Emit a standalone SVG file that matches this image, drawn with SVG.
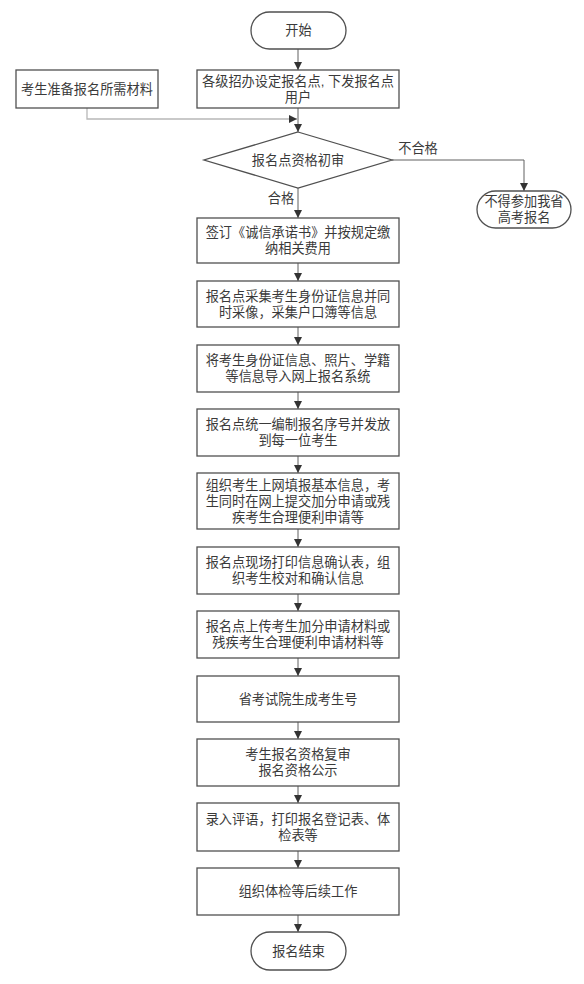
<svg xmlns="http://www.w3.org/2000/svg" width="584" height="984" viewBox="0 0 584 984">
<style>
.n{fill:#fff;stroke:#505050;stroke-width:1.3}
.t{font-family:"Liberation Sans","Noto Sans CJK SC",sans-serif;font-size:13.2px;fill:#3a3a3a;text-anchor:middle;dominant-baseline:central}
.c{fill:none;stroke:#606060;stroke-width:1}
.g{fill:none;stroke:#b8b8b8;stroke-width:1.3}
</style>
<defs>
<marker id="ah" viewBox="0 0 10 10" refX="10" refY="5" markerWidth="8" markerHeight="8" markerUnits="userSpaceOnUse" orient="auto">
<path d="M0,0 L10,5 L0,10 Z" fill="#333"/>
</marker>
</defs>
<rect width="584" height="984" fill="#fff"/>
<g id="connectors">
<line class="c" x1="298" y1="49" x2="298" y2="70" marker-end="url(#ah)"/>
<polyline class="g" points="87,108 87,119 297,119"/>
<line x1="289" y1="119" x2="297" y2="119" stroke="none" marker-end="url(#ah)"/>
<line class="c" x1="298" y1="108" x2="298" y2="132" marker-end="url(#ah)"/>
<polyline class="c" points="392,160 524,160 524,191" marker-end="url(#ah)"/>
<line class="c" x1="298" y1="188" x2="298" y2="218" marker-end="url(#ah)"/>
<line class="c" x1="298" y1="263" x2="298" y2="281" marker-end="url(#ah)"/>
<line class="c" x1="298" y1="327" x2="298" y2="345" marker-end="url(#ah)"/>
<line class="c" x1="298" y1="392" x2="298" y2="409" marker-end="url(#ah)"/>
<line class="c" x1="298" y1="456" x2="298" y2="473" marker-end="url(#ah)"/>
<line class="c" x1="298" y1="529" x2="298" y2="547" marker-end="url(#ah)"/>
<line class="c" x1="298" y1="594" x2="298" y2="611" marker-end="url(#ah)"/>
<line class="c" x1="298" y1="658" x2="298" y2="676" marker-end="url(#ah)"/>
<line class="c" x1="298" y1="722" x2="298" y2="739" marker-end="url(#ah)"/>
<line class="c" x1="298" y1="786" x2="298" y2="803" marker-end="url(#ah)"/>
<line class="c" x1="298" y1="851" x2="298" y2="868" marker-end="url(#ah)"/>
<line class="c" x1="298" y1="915" x2="298" y2="932" marker-end="url(#ah)"/>
<text class="t" x="418" y="148">不合格</text>
<text class="t" x="281" y="198">合格</text>
</g>
<g id="start"><rect class="n" x="251" y="12" width="95" height="37" rx="18.5"/><text class="t" x="298.5" y="30.5">开始</text></g>
<g id="prep"><rect class="n" x="16" y="70" width="142" height="38"/><text class="t" x="87" y="89">考生准备报名所需材料</text></g>
<g id="setup"><rect class="n" x="197" y="70" width="202" height="38"/><text class="t" x="298" y="81">各级招办设定报名点, 下发报名点</text><text class="t" x="298" y="97">用户</text></g>
<g id="check"><polygon class="n" points="298,132 392,160 298,188 204,160"/><text class="t" x="298" y="160">报名点资格初审</text></g>
<g id="reject"><rect class="n" x="477" y="191" width="94" height="37" rx="18.5"/><text class="t" x="524" y="201.5">不得参加我省</text><text class="t" x="524" y="217.5">高考报名</text></g>
<g id="b1"><rect class="n" x="197" y="218" width="202" height="45"/><text class="t" x="298" y="232.5">签订《诚信承诺书》并按规定缴</text><text class="t" x="298" y="248.5">纳相关费用</text></g>
<g id="b2"><rect class="n" x="197" y="281" width="202" height="46"/><text class="t" x="298" y="296">报名点采集考生身份证信息并同</text><text class="t" x="298" y="312">时采像，采集户口簿等信息</text></g>
<g id="b3"><rect class="n" x="197" y="345" width="202" height="47"/><text class="t" x="298" y="360.5">将考生身份证信息、照片、学籍</text><text class="t" x="298" y="376.5">等信息导入网上报名系统</text></g>
<g id="b4"><rect class="n" x="197" y="409" width="202" height="47"/><text class="t" x="298" y="424.5">报名点统一编制报名序号并发放</text><text class="t" x="298" y="440.5">到每一位考生</text></g>
<g id="b5"><rect class="n" x="197" y="473" width="202" height="56"/><text class="t" x="298" y="485">组织考生上网填报基本信息，考</text><text class="t" x="298" y="501">生同时在网上提交加分申请或残</text><text class="t" x="298" y="517">疾考生合理便利申请等</text></g>
<g id="b6"><rect class="n" x="197" y="547" width="202" height="47"/><text class="t" x="298" y="562.5">报名点现场打印信息确认表，组</text><text class="t" x="298" y="578.5">织考生校对和确认信息</text></g>
<g id="b7"><rect class="n" x="197" y="611" width="202" height="47"/><text class="t" x="298" y="626.5">报名点上传考生加分申请材料或</text><text class="t" x="298" y="642.5">残疾考生合理便利申请材料等</text></g>
<g id="b8"><rect class="n" x="197" y="676" width="202" height="46"/><text class="t" x="298" y="699">省考试院生成考生号</text></g>
<g id="b9"><rect class="n" x="197" y="739" width="202" height="47"/><text class="t" x="298" y="754.5">考生报名资格复审</text><text class="t" x="298" y="770.5">报名资格公示</text></g>
<g id="b10"><rect class="n" x="197" y="803" width="202" height="48"/><text class="t" x="298" y="819">录入评语，打印报名登记表、体</text><text class="t" x="298" y="835">检表等</text></g>
<g id="b11"><rect class="n" x="197" y="868" width="202" height="47"/><text class="t" x="298" y="891.5">组织体检等后续工作</text></g>
<g id="end"><rect class="n" x="251" y="932" width="95" height="38" rx="19"/><text class="t" x="298.5" y="951">报名结束</text></g>
</svg>
